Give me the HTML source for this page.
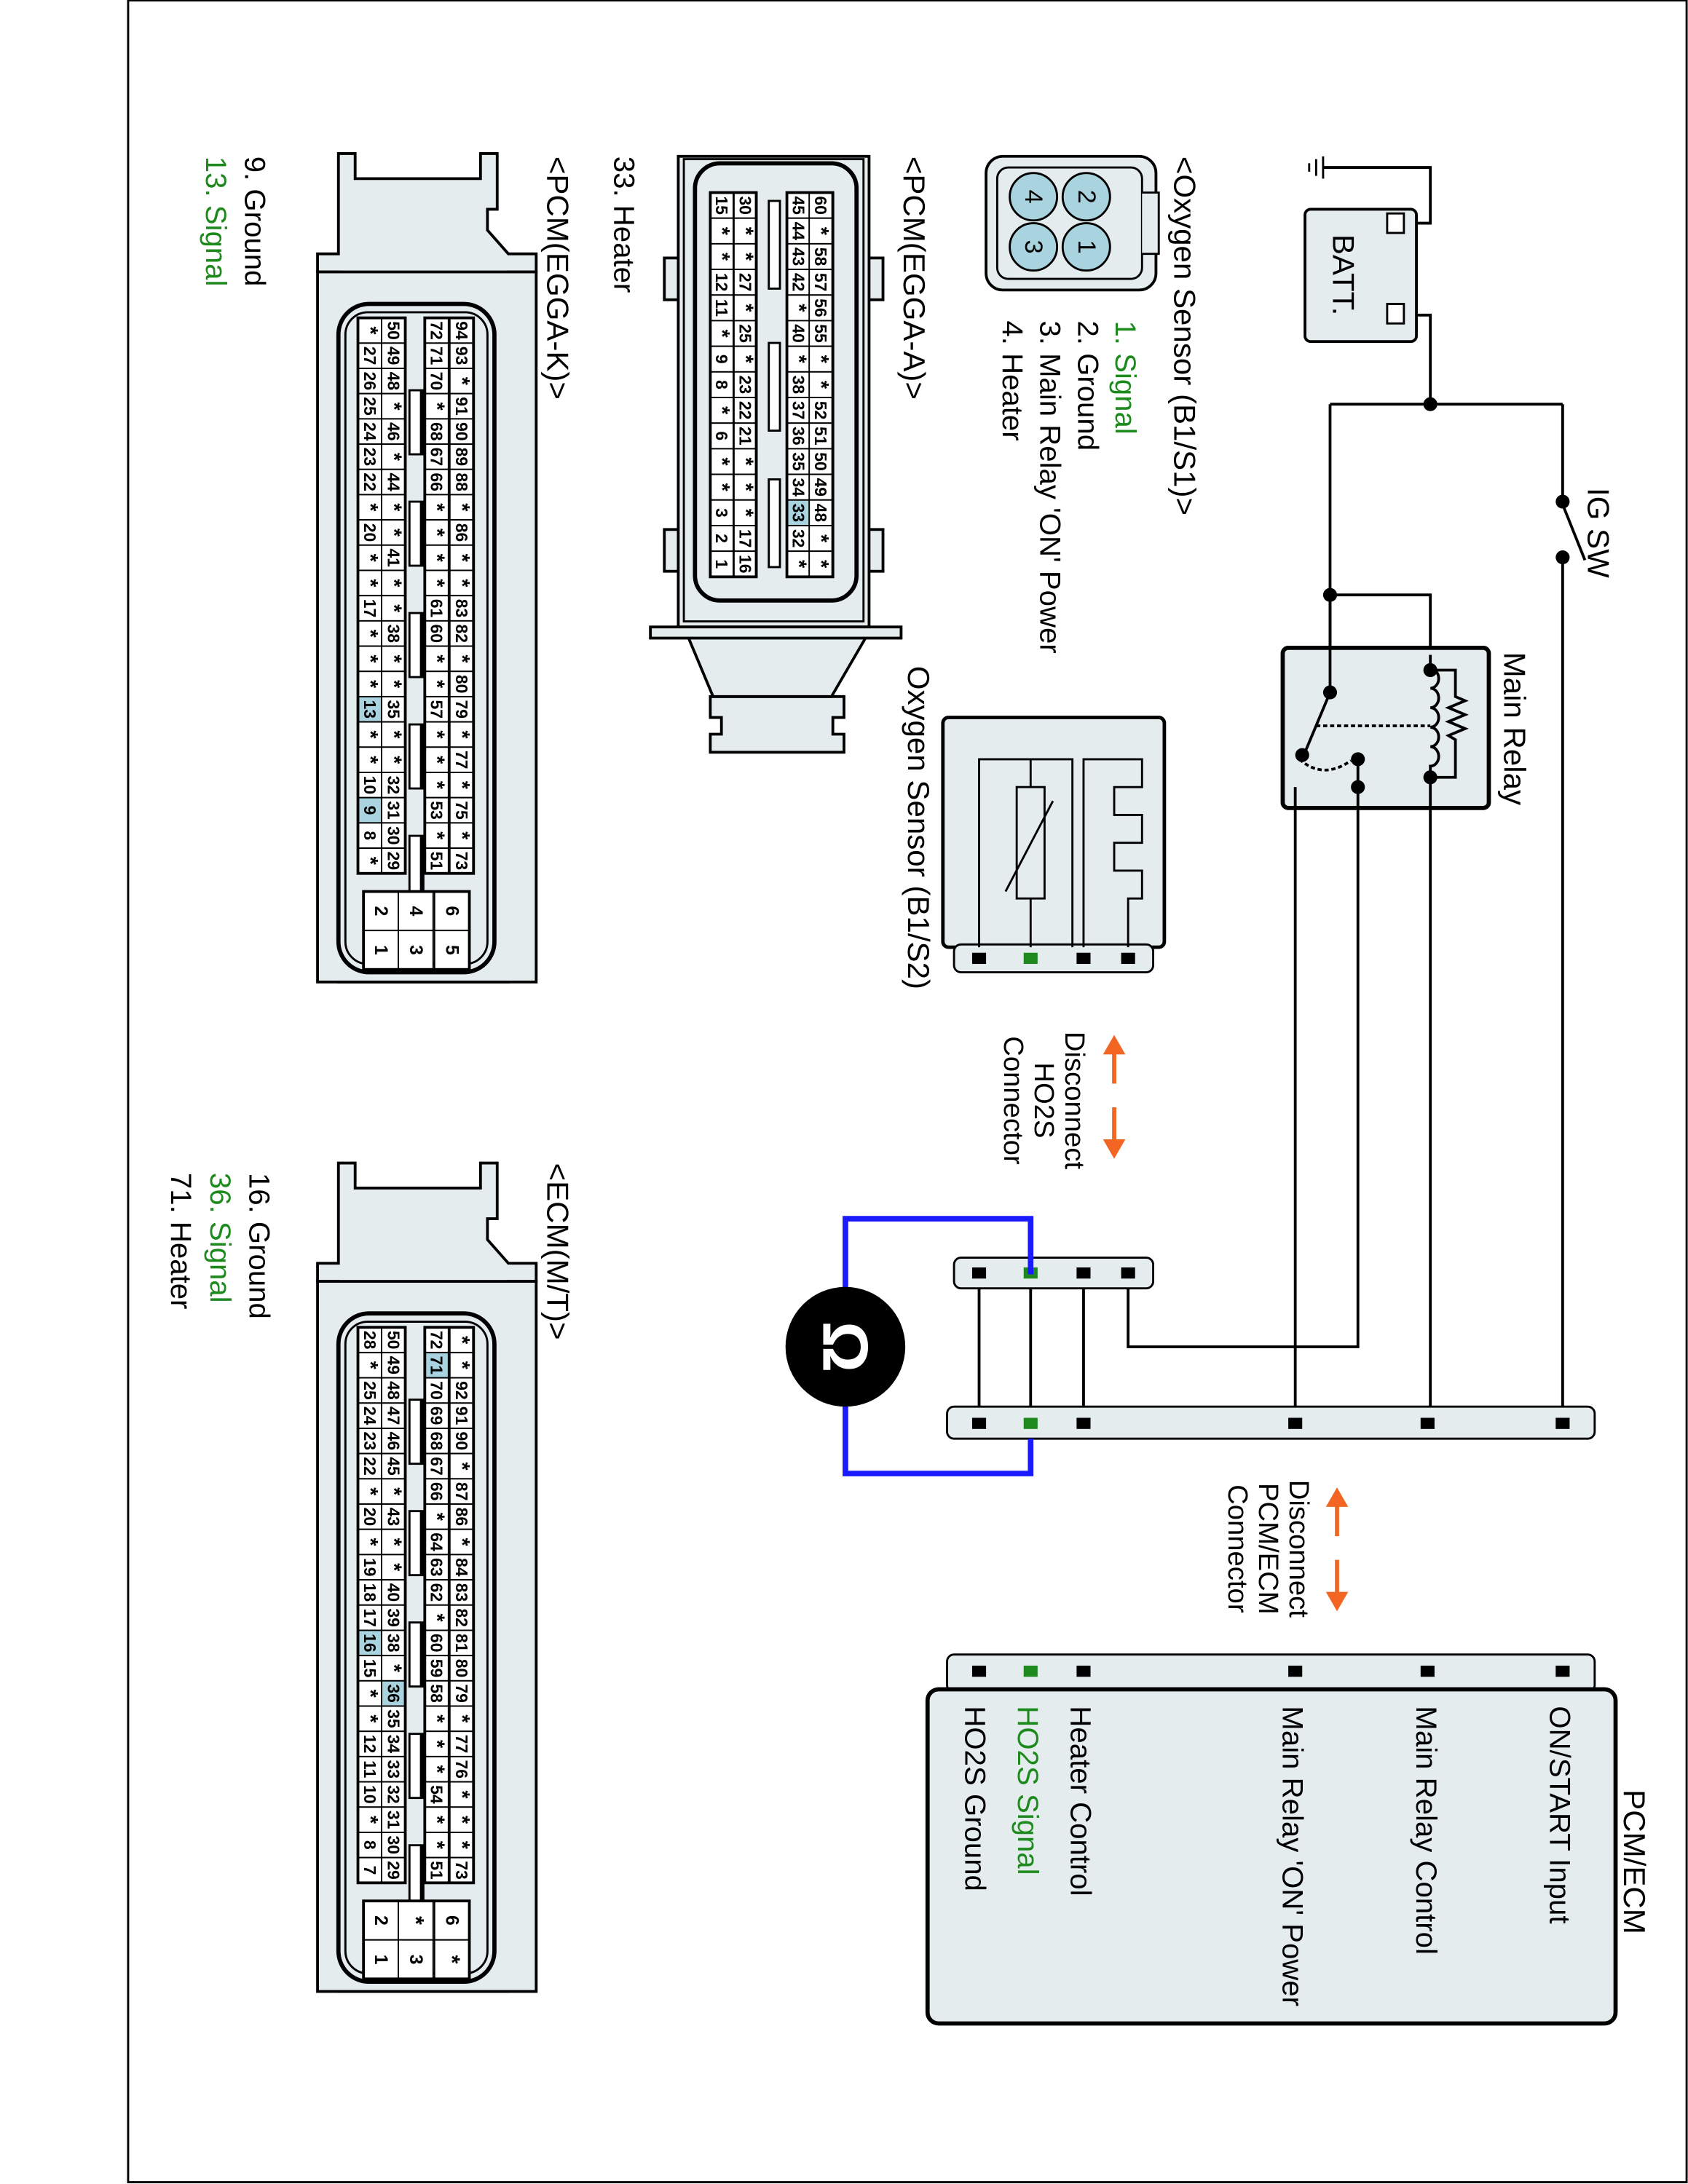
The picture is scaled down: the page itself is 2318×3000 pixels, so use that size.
<!DOCTYPE html>
<html><head><meta charset="utf-8">
<style>
html,body{margin:0;padding:0;background:#fff;}
svg{display:block;}
text{font-family:"Liberation Sans",Arial,sans-serif;}
</style></head>
<body>
<svg id="s" xmlns="http://www.w3.org/2000/svg" width="2318" height="3000" viewBox="0 0 1212 1568">
<rect x="0" y="0" width="1212" height="1568" fill="#fff"/>
<rect x="92" y="0" width="1119" height="1567" fill="none" stroke="#000" stroke-width="1.5"/>

<g stroke="#000" stroke-width="2" fill="none">
  <polyline points="1005,160 1027,160 1027,120 950,120"/>
  <polyline points="1005,226 1027,226 1027,290"/>
  <polyline points="955,290 1122,290"/>
  <polyline points="1122,290 1122,360"/>
  <line x1="1122" y1="362" x2="1138" y2="402"/>
  <polyline points="1122,400 1122,1020"/>
  <polyline points="955,290 955,497"/>
  <polyline points="955,427 1027,427 1027,480"/>
  <polyline points="1027,560 1027,1020"/>
  <polyline points="975,545 975,967 810,967 810,915"/>
  <polyline points="975,565 930,565 930,1020"/>
  <line x1="703" y1="915" x2="703" y2="1020"/>
  <line x1="740" y1="915" x2="740" y2="1020"/>
  <line x1="778" y1="915" x2="778" y2="1020"/>
</g>
<g stroke="#000" stroke-width="1.5">
  <line x1="950" y1="112" x2="950" y2="128"/>
  <line x1="945" y1="114" x2="945" y2="126"/>
  <line x1="940" y1="117" x2="940" y2="123"/>
</g>
<rect x="937" y="150" width="80" height="95" rx="4" fill="#e4ecee" stroke="#000" stroke-width="2"/>
<rect x="996" y="153" width="12" height="14" fill="#fff" stroke="#000" stroke-width="1.5"/>
<rect x="996" y="218" width="12" height="14" fill="#fff" stroke="#000" stroke-width="1.5"/>
<text transform="translate(957,168) rotate(90)" font-size="22">BATT.</text>
<g fill="#000">
  <circle cx="1027" cy="290" r="5"/><circle cx="955" cy="427" r="5"/>
  <circle cx="1122" cy="360" r="5"/><circle cx="1122" cy="400" r="5"/>
</g>
<text transform="translate(1140,350) rotate(90)" font-size="22">IG SW</text>

<rect x="921" y="465" width="148" height="115" rx="4" fill="#e4ecee" stroke="#000" stroke-width="3"/>
<g stroke="#000" stroke-width="2" fill="none">
  <line x1="955" y1="427" x2="955" y2="497"/>
  <line x1="955" y1="497" x2="937" y2="540"/>
  <path d="M1027,470 L1027,480 a6,7 0 0 1 0,14 a6,7 0 0 1 0,14 a6,7 0 0 1 0,14 a6,7 0 0 1 0,14 a6,7 0 0 1 0,14 L1027,565 L1027,580"/>
  <polyline points="1027,481 1045,481 1045,500 1052,503 1040,508 1052,513 1040,518 1052,523 1040,528 1045,531 1045,558 1027,558"/>
  <line x1="945" y1="521" x2="1027" y2="521" stroke-dasharray="3,2"/>
  <path d="M933,545 Q950,560 970,546" stroke-dasharray="3,2"/>
  <line x1="930" y1="565" x2="930" y2="580"/>
  <line x1="975" y1="545" x2="975" y2="580"/>
</g>
<g fill="#000">
  <circle cx="955" cy="497" r="5"/><circle cx="1027" cy="481" r="5"/><circle cx="1027" cy="558" r="5"/>
  <circle cx="935" cy="542" r="5"/><circle cx="975" cy="545" r="5"/><circle cx="975" cy="565" r="5"/>
</g>
<text transform="translate(1080,468) rotate(90)" font-size="22">Main Relay</text>

<rect x="677" y="515" width="159" height="165" rx="4" fill="#e4ecee" stroke="#000" stroke-width="2.5"/>
<rect x="685" y="678" width="143" height="20" rx="5" fill="#e4ecee" stroke="#000" stroke-width="1.5"/>
<g stroke="#000" stroke-width="1.5" fill="none">
  <polyline points="703,680 703,545 770,545 770,680"/>
  <polyline points="740,545 740,565"/><polyline points="740,645 740,680"/>
  <rect x="730" y="565" width="20" height="80"/>
  <line x1="722" y1="640" x2="756" y2="575"/>
  <polyline points="778,680 778,545 820,545 820,565 800,565 800,585 820,585 820,605 800,605 800,625 820,625 820,645 810,645 810,680"/>
</g>
<g><rect x="698" y="684" width="10" height="8"/><rect x="735" y="684" width="10" height="8" fill="#1e8a1e"/><rect x="773" y="684" width="10" height="8"/><rect x="805" y="684" width="10" height="8"/></g>
<text transform="translate(652,478) rotate(90)" font-size="22">Oxygen Sensor (B1/S2)</text>

<rect x="685" y="903" width="143" height="22" rx="5" fill="#e4ecee" stroke="#000" stroke-width="1.5"/>
<g><rect x="698" y="910" width="10" height="8"/><rect x="735" y="910" width="10" height="8" fill="#1e8a1e"/><rect x="773" y="910" width="10" height="8"/><rect x="805" y="910" width="10" height="8"/></g>
<rect x="680" y="1010" width="465" height="23" rx="5" fill="#e4ecee" stroke="#000" stroke-width="1.5"/>
<g><rect x="698" y="1018" width="10" height="8"/><rect x="735" y="1018" width="10" height="8" fill="#1e8a1e"/><rect x="773" y="1018" width="10" height="8"/><rect x="925" y="1018" width="10" height="8"/><rect x="1020" y="1018" width="10" height="8"/><rect x="1117" y="1018" width="10" height="8"/></g>

<polyline points="740,915 740,875 607,875 607,1058 740,1058 740,1033" fill="none" stroke="#1a1aff" stroke-width="4"/>
<circle cx="607" cy="967" r="43" fill="#000"/>
<text transform="translate(607,967) rotate(90)" font-size="46" fill="#fff" text-anchor="middle" dominant-baseline="central" font-weight="bold">Ω</text>

<g stroke="#f26522" stroke-width="3" fill="#f26522">
  <line x1="800" y1="755" x2="800" y2="778"/><line x1="800" y1="795" x2="800" y2="820"/>
  <polygon points="800,743 792,757 808,757" stroke="none"/><polygon points="800,832 792,818 808,818" stroke="none"/>
  <line x1="960" y1="1080" x2="960" y2="1103"/><line x1="960" y1="1120" x2="960" y2="1145"/>
  <polygon points="960,1068 952,1082 968,1082" stroke="none"/><polygon points="960,1157 952,1143 968,1143" stroke="none"/>
</g>
<g font-size="20" text-anchor="middle">
  <text transform="translate(765,790) rotate(90)">Disconnect</text>
  <text transform="translate(743,790) rotate(90)">HO2S</text>
  <text transform="translate(721,790) rotate(90)">Connector</text>
  <text transform="translate(926,1112) rotate(90)">Disconnect</text>
  <text transform="translate(904,1112) rotate(90)">PCM/ECM</text>
  <text transform="translate(882,1112) rotate(90)">Connector</text>
</g>

<rect x="680" y="1188" width="465" height="27" rx="5" fill="#e4ecee" stroke="#000" stroke-width="1.5"/>
<rect x="666" y="1213" width="494" height="240" rx="8" fill="#e4ecee" stroke="#000" stroke-width="3"/>
<g><rect x="698" y="1196" width="10" height="8"/><rect x="735" y="1196" width="10" height="8" fill="#1e8a1e"/><rect x="773" y="1196" width="10" height="8"/><rect x="925" y="1196" width="10" height="8"/><rect x="1020" y="1196" width="10" height="8"/><rect x="1117" y="1196" width="10" height="8"/></g>
<text transform="translate(1166,1285) rotate(90)" font-size="22">PCM/ECM</text>
<g font-size="21">
  <text transform="translate(1113,1225) rotate(90)">ON/START Input</text>
  <text transform="translate(1017,1225) rotate(90)">Main Relay Control</text>
  <text transform="translate(921,1225) rotate(90)">Main Relay 'ON' Power</text>
  <text transform="translate(769,1225) rotate(90)">Heater Control</text>
  <text transform="translate(731,1225) rotate(90)" fill="#1e8a1e">HO2S  Signal</text>
  <text transform="translate(693,1225) rotate(90)">HO2S  Ground</text>
</g>

<rect x="708" y="112" width="122" height="96" rx="12" fill="#e4ecee" stroke="#000" stroke-width="2"/>
<rect x="716" y="120" width="104" height="80" rx="8" fill="none" stroke="#000" stroke-width="1.5"/>
<polyline points="820,138 832,138 832,182 820,182" fill="#e4ecee" stroke="#000" stroke-width="1.5"/>
<g fill="#a9d3df" stroke="#000" stroke-width="1.5">
  <circle cx="780" cy="141" r="17"/><circle cx="780" cy="177" r="17"/>
  <circle cx="742" cy="141" r="17"/><circle cx="742" cy="177" r="17"/>
</g>
<g font-size="18" text-anchor="middle" dominant-baseline="central">
  <text transform="translate(780,141) rotate(90)">2</text><text transform="translate(780,177) rotate(90)">1</text>
  <text transform="translate(742,141) rotate(90)">4</text><text transform="translate(742,177) rotate(90)">3</text>
</g>
<text transform="translate(843,112) rotate(90)" font-size="22">&lt;Oxygen Sensor (B1/S1)&gt;</text>
<g font-size="21">
  <text transform="translate(801,230) rotate(90)" fill="#1e8a1e">1. Signal</text>
  <text transform="translate(774,230) rotate(90)">2. Ground</text>
  <text transform="translate(747,230) rotate(90)">3. Main Relay 'ON' Power</text>
  <text transform="translate(720,230) rotate(90)">4. Heater</text>
</g>

<g stroke="#000" stroke-width="2" fill="#e4ecee">
  <rect x="477" y="185" width="12" height="30"/><rect x="477" y="380" width="12" height="30"/>
  <rect x="622" y="185" width="12" height="30"/><rect x="622" y="380" width="12" height="30"/>
  <path d="M510,500 L510,515 L518,515 L518,527 L510,527 L510,540 L606,540 L606,527 L598,527 L598,515 L606,515 L606,500 Z"/>
  <path d="M494,457 L512,500 L597,500 L622,457 Z"/>
  <rect x="487" y="112" width="137" height="338"/>
  <rect x="467" y="450" width="180" height="8"/>
  <rect x="499" y="117" width="116" height="314" rx="18" fill="none" stroke-width="3"/>
</g>
<g stroke="#000" stroke-width="1.5" fill="none">
  <rect x="491" y="114" width="129" height="332"/>
</g>
<g stroke="#000" stroke-width="1.5" fill="#fff">
  <rect x="552" y="144" width="8" height="63"/><rect x="552" y="246" width="8" height="63"/><rect x="552" y="344" width="8" height="63"/>
</g>
<text transform="translate(649,112) rotate(90)" font-size="22">&lt;PCM(EGGA-A)&gt;</text>
<text transform="translate(441,112) rotate(90)" font-size="21">33. Heater</text>

<g stroke="#000" stroke-width="2" fill="#e4ecee">
  <path d="M243,110 L255,110 L255,128 L345,128 L345,110 L357,110 L357,150 L350,150 L350,165 L365,182 L385,182 L385,195 L365,195 L365,705 L243,705 L243,195 L228,195 L228,182 L243,182 Z"/>
  <rect x="228" y="195" width="157" height="510" fill="#e4ecee"/>
  <rect x="243" y="218" width="112" height="480" rx="22" fill="none" stroke-width="3"/>
  <rect x="248" y="224" width="102" height="468" rx="16" fill="none" stroke-width="1.5"/>
</g>
<g transform="translate(0,725)" stroke="#000" stroke-width="2" fill="#e4ecee">
  <path d="M243,110 L255,110 L255,128 L345,128 L345,110 L357,110 L357,150 L350,150 L350,165 L365,182 L385,182 L385,195 L365,195 L365,705 L243,705 L243,195 L228,195 L228,182 L243,182 Z"/>
  <rect x="228" y="195" width="157" height="510" fill="#e4ecee"/>
  <rect x="243" y="218" width="112" height="480" rx="22" fill="none" stroke-width="3"/>
  <rect x="248" y="224" width="102" height="468" rx="16" fill="none" stroke-width="1.5"/>
</g>
<text transform="translate(393,112) rotate(90)" font-size="22">&lt;PCM(EGGA-K)&gt;</text>
<text transform="translate(176,112) rotate(90)" font-size="21">9. Ground</text>
<text transform="translate(148,112) rotate(90)" font-size="21" fill="#1e8a1e">13. Signal</text>
<text transform="translate(393,835) rotate(90)" font-size="22">&lt;ECM(M/T)&gt;</text>
<text transform="translate(179,842) rotate(90)" font-size="21">16. Ground</text>
<text transform="translate(151,842) rotate(90)" font-size="21" fill="#1e8a1e">36. Signal</text>
<text transform="translate(123,842) rotate(90)" font-size="21">71. Heater</text>
<g id="grids"></g>
</svg>
<script>
(function(){
var NS="http://www.w3.org/2000/svg",g=document.getElementById("grids");
function el(t,a,p){var e=document.createElementNS(NS,t);for(var k in a)e.setAttribute(k,a[k]);(p||g).appendChild(e);return e;}
function cell(x,y,w,h,l,hl,fs){
 el("rect",{x:x,y:y,width:w,height:h,fill:hl?"#a9d3df":"#fff",stroke:"#000","stroke-width":1});
 var t=el("text",{transform:"translate("+(x+w/2)+","+(y+h/2)+") rotate(90)","font-size":l=="*"?fs+3:fs,"text-anchor":"middle","dominant-baseline":"central","font-weight":"bold"});
 t.textContent=l;
}
function grid(cols,xs,w,y0,y1,hl,fs){
 for(var c=0;c<cols.length;c++){var a=cols[c].split(","),h=(y1-y0)/a.length;
  for(var r=0;r<a.length;r++)cell(xs[c],y0+r*h,w,h,a[r],hl.indexOf(c+":"+a[r])>=0,fs);}
}
function frame(x,y,w,h){el("rect",{x:x,y:y,width:w,height:h,fill:"none",stroke:"#000","stroke-width":2});}
grid(["15,*,*,12,11,*,9,8,*,6,*,*,3,2,1","30,*,*,27,*,25,*,23,22,21,*,*,*,17,16",
 "45,44,43,42,*,40,*,38,37,36,35,34,33,32,*","60,*,58,57,56,55,*,*,52,51,50,49,48,*,*"],
 [510,527,565,581],16.5,138,414,["2:33"],12);
frame(510,138,33,276);frame(565,138,33,276);
function kgrid(off,cols,hl,sm){
 grid(cols,[257,274,305,323],17,228+off,627+off,hl,12);
 frame(257,228+off,34,399);frame(305,228+off,35,399);
 for(var i=0;i<5;i++){el("rect",{x:294,y:280+off+i*80,width:10,height:46,fill:"#fff",stroke:"#000","stroke-width":1.5});
  el("line",{x1:303,y1:280+off+i*80,x2:303,y2:326+off+i*80,stroke:"#000","stroke-width":3});}
 var xs=[261,286,312],k=0;
 for(var c=0;c<3;c++){cell(xs[c],640+off,25,28,sm[k++],false,13);cell(xs[c],668+off,25,28,sm[k++],false,13);}
 frame(261,640+off,76,56);
}
kgrid(0,["*,27,26,25,24,23,22,*,20,*,*,17,*,*,*,13,*,*,10,9,8,*",
 "50,49,48,*,46,*,44,*,*,41,*,*,38,*,*,35,*,*,32,31,30,29",
 "72,71,70,*,68,67,66,*,*,*,*,61,60,*,*,57,*,*,*,53,*,51",
 "94,93,*,91,90,89,88,*,86,*,*,83,82,*,80,79,*,77,*,75,*,73"],["0:13","0:9"],["2","1","4","3","6","5"]);
kgrid(725,["28,*,25,24,23,22,*,20,*,19,18,17,16,15,*,*,12,11,10,*,8,7",
 "50,49,48,47,46,45,*,43,*,*,40,39,38,*,36,35,34,33,32,31,30,29",
 "72,71,70,69,68,67,66,*,64,63,62,*,60,59,58,*,*,*,54,*,*,51",
 "*,*,92,91,90,*,87,86,*,84,83,82,81,80,79,*,77,76,*,*,*,73"],["2:71","1:36","0:16"],["2","1","*","3","6","*"]);
})();
</script>
</body></html>
